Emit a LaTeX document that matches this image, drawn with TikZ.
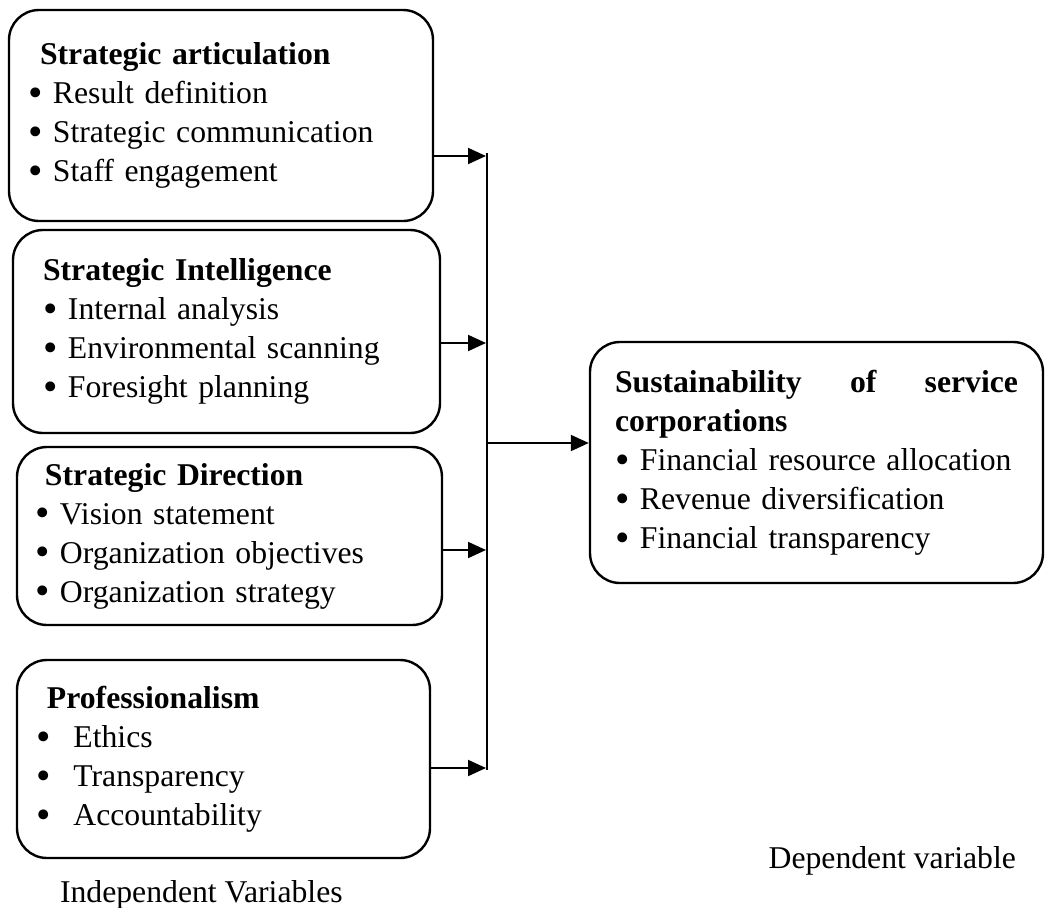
\documentclass[tikz,border=0pt]{standalone}
\usepackage{fontspec}
\setmainfont{Liberation Serif}
\usetikzlibrary{arrows.meta}
\newcommand{\bigbul}{\raisebox{-1.4pt}{\scalebox{1.3}{\textbullet}}}
\newcommand{\bul}{\bigbul\ }

\begin{document}
\begin{tikzpicture}[x=0.5pt,y=-0.5pt,
	txt/.style={font=\fontsize{15.85}{19.5}\selectfont},
	varbox/.style={txt, draw, line width=1.2pt, rounded corners=15pt, align=left, inner ysep=0pt},
	arr/.style={-{Triangle[length=9pt,width=8pt]}, line width=1pt}]
		\useasboundingbox (0,0) rectangle (1046,907);
		% independent variables
		\node[varbox, minimum width=212pt, minimum height=105.5pt, inner xsep=9.5pt, text width=193pt] (art) at (221,115.5)
			{\hspace*{6pt}\textbf{Strategic articulation}\\ \bul Result definition\\ \bul Strategic communication\\ \bul Staff engagement};
		\node[varbox, minimum width=213.5pt, minimum height=101.5pt, inner xsep=15pt, text width=183.5pt] (intel) at (226.5,331.5)
			{\textbf{Strategic Intelligence}\\ \bul Internal analysis\\ \bul Environmental scanning\\ \bul Foresight planning};
		\node[varbox, minimum width=212.5pt, minimum height=89pt, inner xsep=9pt, text width=194.5pt] (dir) at (229.5,536)
			{\hspace*{5pt}\textbf{Strategic Direction}\\ \bul Vision statement\\ \bul Organization objectives\\ \bul Organization strategy};
		\node[varbox, minimum width=206.5pt, minimum height=99pt, inner xsep=10pt, text width=186.5pt] (prof) at (223.5,759)
			{\hspace*{5pt}\textbf{Professionalism}\\ \bigbul\hspace*{11pt}Ethics\\ \bigbul\hspace*{11pt}Transparency\\ \bigbul\hspace*{11pt}Accountability};
		% dependent variable
		\node[varbox, minimum width=226.5pt, minimum height=120.5pt, inner xsep=12.5pt, text width=201.5pt] (sust) at (816.5,462.5)
			{\textbf{Sustainability \hfill of \hfill service}\\ \textbf{corporations}\\ \bul Financial resource allocation\\ \bul Revenue diversification\\ \bul Financial transparency};
		
		\node[txt, anchor=base west] (indep) at (53,902) {Independent Variables};
		\node[txt, anchor=base east] (dep) at (1023,868) {Dependent variable};
		
		\coordinate (bustop) at (487,153);
		\coordinate (busbot) at (487,770);
		\coordinate (in1) at (486,156);
		\coordinate (in2) at (486,343);
		\coordinate (in3) at (486,550);
		\coordinate (in4) at (486,768);
		\coordinate (out) at (488,443);
		\draw[line width=0.8pt] (bustop)--(busbot);
		\draw[arr] (art.east |- in1)--(in1);
		\draw[arr] (intel.east |- in2)--(in2);
		\draw[arr] (dir.east |- in3)--(in3);
		\draw[arr] (prof.east |- in4)--(in4);
		\draw[arr] (out)--(sust.west |- out);
\end{tikzpicture}
\end{document}
